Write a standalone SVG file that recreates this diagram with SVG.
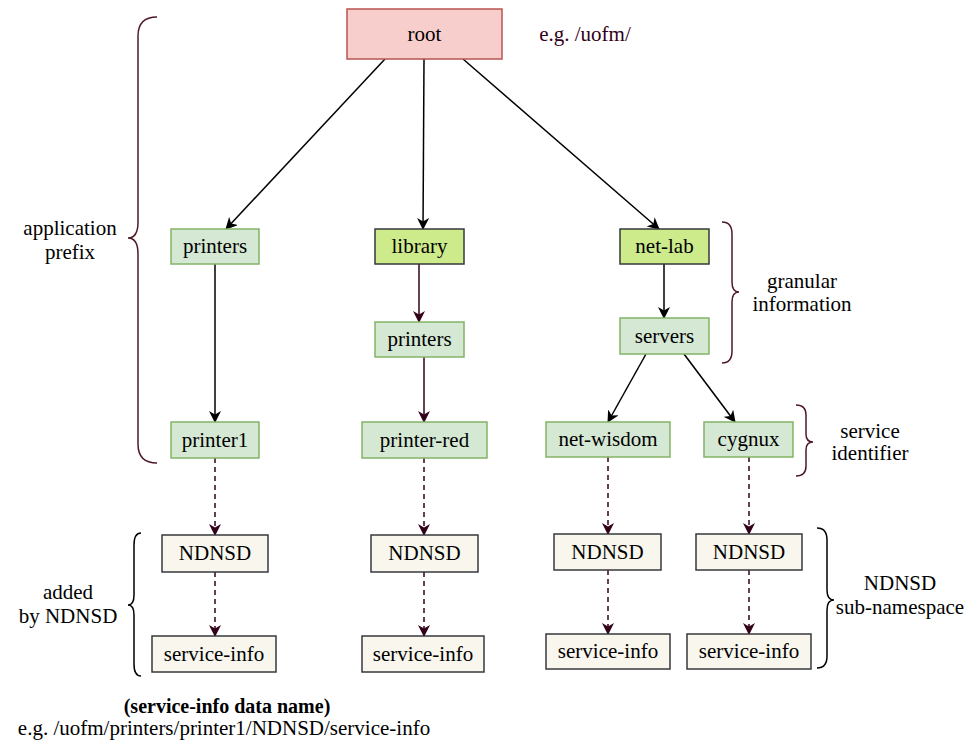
<svg xmlns="http://www.w3.org/2000/svg" width="968" height="740" viewBox="0 0 968 740">
  <style>
    text { font-family: "Liberation Serif", "Times New Roman", serif; font-size: 21px; fill: #000; text-anchor: middle; }
    .root { fill: #f8cecc; stroke: #b85450; stroke-width: 1.5; }
    .leaf { fill: #d5e8d4; stroke: #82b366; stroke-width: 1.5; }
    .key { fill: #cdeb8b; stroke: #36393d; stroke-width: 1.5; }
    .sd { fill: #f9f7ed; stroke: #36393d; stroke-width: 1.5; }
    .edge { fill: none; stroke: #000; stroke-width: 1.5; }
    .edge.m { stroke: #33001a; }
    .edge.d { stroke: #33001a; stroke-dasharray: 5 4; }
    .brace { fill: none; stroke: #4d1a26; stroke-width: 1.5; }
    .brace.k { stroke: #000; }
    .note { fill: #33001a; }
    .foot { font-size: 20px; }
  </style>
  <defs>
    <marker id="ah" viewBox="0 0 12 12" refX="11" refY="6" markerWidth="12" markerHeight="12" markerUnits="userSpaceOnUse" orient="auto">
      <path d="M0,0 L12,6 L0,12 L3.5,6 Z" fill="#000"/>
    </marker>
    <marker id="ahm" viewBox="0 0 12 12" refX="11" refY="6" markerWidth="12" markerHeight="12" markerUnits="userSpaceOnUse" orient="auto">
      <path d="M0,0 L12,6 L0,12 L3.5,6 Z" fill="#33001a"/>
    </marker>
  </defs>

  <!-- connectors -->
  <g id="connectors">
    <path class="edge" d="M385,59 L226,229" marker-end="url(#ah)"/>
    <path class="edge" d="M424,59 L423,229" marker-end="url(#ah)"/>
    <path class="edge" d="M463,59 L659,229" marker-end="url(#ah)"/>
    <path class="edge" d="M215,264 L215,422" marker-end="url(#ah)"/>
    <path class="edge m" d="M419,264 L419,322" marker-end="url(#ahm)"/>
    <path class="edge m" d="M424,357 L424,422" marker-end="url(#ahm)"/>
    <path class="edge" d="M664,264 L664,318" marker-end="url(#ah)"/>
    <path class="edge" d="M646,354 L608,422" marker-end="url(#ah)"/>
    <path class="edge" d="M684,354 L735,422" marker-end="url(#ah)"/>
    <path class="edge d" d="M215,458 L215,535" marker-end="url(#ahm)"/>
    <path class="edge d" d="M215,572 L215,636" marker-end="url(#ahm)"/>
    <path class="edge d" d="M424,458 L424,535" marker-end="url(#ahm)"/>
    <path class="edge d" d="M424,572 L424,636" marker-end="url(#ahm)"/>
    <path class="edge d" d="M608,457 L608,534" marker-end="url(#ahm)"/>
    <path class="edge d" d="M608,570 L608,634" marker-end="url(#ahm)"/>
    <path class="edge d" d="M749,457 L749,534" marker-end="url(#ahm)"/>
    <path class="edge d" d="M749,570 L749,634" marker-end="url(#ahm)"/>
  </g>

  <!-- name tree nodes -->
  <g id="root"><rect class="root" x="347" y="9" width="155" height="50"/><text x="424.5" y="41">root</text></g>
  <g id="printers-a"><rect class="leaf" x="171" y="229" width="88" height="35"/><text x="215" y="253">printers</text></g>
  <g id="library"><rect class="key" x="375" y="229" width="89" height="35"/><text x="419.5" y="253">library</text></g>
  <g id="net-lab"><rect class="key" x="620" y="229" width="89" height="35"/><text x="664.5" y="253">net-lab</text></g>
  <g id="printers-b"><rect class="leaf" x="375" y="322" width="89" height="35"/><text x="419.5" y="346">printers</text></g>
  <g id="servers"><rect class="leaf" x="620" y="318" width="89" height="36"/><text x="664.5" y="343">servers</text></g>
  <g id="printer1"><rect class="leaf" x="171" y="422" width="88" height="36"/><text x="215" y="447">printer1</text></g>
  <g id="printer-red"><rect class="leaf" x="362" y="422" width="125" height="36"/><text x="424.5" y="447">printer-red</text></g>
  <g id="net-wisdom"><rect class="leaf" x="546" y="422" width="124" height="35"/><text x="608" y="446">net-wisdom</text></g>
  <g id="cygnux"><rect class="leaf" x="704" y="422" width="89" height="35"/><text x="748.5" y="446">cygnux</text></g>

  <g id="ndnsd-1"><rect class="sd" x="162" y="535" width="106" height="37"/><text x="215" y="560">NDNSD</text></g>
  <g id="ndnsd-2"><rect class="sd" x="371" y="535" width="107" height="37"/><text x="424.5" y="560">NDNSD</text></g>
  <g id="ndnsd-3"><rect class="sd" x="554" y="534" width="107" height="36"/><text x="607.5" y="559">NDNSD</text></g>
  <g id="ndnsd-4"><rect class="sd" x="696" y="534" width="106" height="36"/><text x="749" y="559">NDNSD</text></g>

  <g id="service-info-1"><rect class="sd" x="152" y="636" width="124" height="36"/><text x="214" y="661">service-info</text></g>
  <g id="service-info-2"><rect class="sd" x="362" y="636" width="122" height="36"/><text x="423" y="661">service-info</text></g>
  <g id="service-info-3"><rect class="sd" x="546" y="634" width="124" height="35"/><text x="608" y="658">service-info</text></g>
  <g id="service-info-4"><rect class="sd" x="687" y="634" width="124" height="35"/><text x="749" y="658">service-info</text></g>

  <!-- grouping braces -->
  <g id="braces">
    <path class="brace" d="M157,17 Q138,17 138,36 L138,222 Q138,238 128,238 Q138,238 138,254 L138,444 Q138,463 157,463"/>
    <path class="brace" d="M722,222 Q732,222 732,234 L732,282 Q732,292 739,292 Q732,292 732,302 L732,351 Q732,363 722,363"/>
    <path class="brace" d="M796,405 Q806,405 806,415 L806,434 Q806,442 813,442 Q806,442 806,450 L806,466 Q806,476 796,476"/>
    <path class="brace k" d="M817,528 Q827,528 827,540 L827,590 Q827,600 834,600 Q827,600 827,610 L827,656 Q827,668 817,668"/>
    <path class="brace k" d="M141,533 Q134,533 134,545 L134,595 Q134,605 128,605 Q134,605 134,615 L134,664 Q134,676 141,676"/>
  </g>

  <!-- annotations -->
  <g id="labels">
    <text class="note" x="585" y="41">e.g. /uofm/</text>
    <text x="70" y="235">application</text>
    <text x="70" y="259">prefix</text>
    <text x="802" y="288">granular</text>
    <text x="802" y="311">information</text>
    <text x="870" y="438">service</text>
    <text x="870" y="460">identifier</text>
    <text x="900" y="590">NDNSD</text>
    <text x="900" y="614">sub-namespace</text>
    <text x="68" y="599">added</text>
    <text x="68" y="623">by NDNSD</text>
    <text class="foot" x="227" y="713" font-weight="bold">(service-info data name)</text>
    <text x="224" y="735">e.g. /uofm/printers/printer1/NDNSD/service-info</text>
  </g>
</svg>
